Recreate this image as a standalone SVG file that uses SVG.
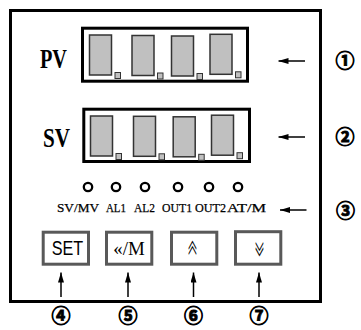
<svg xmlns="http://www.w3.org/2000/svg" width="361" height="330" viewBox="0 0 361 330">
<style>
.panel{fill:#fff;stroke:#000;stroke-width:3}
.disp{fill:#fff;stroke:#000;stroke-width:3}
.dig{fill:#c0c0c0;stroke:#333;stroke-width:1.5}
.dot{fill:#c0c0c0;stroke:#333;stroke-width:1}
.led{fill:none;stroke:#000;stroke-width:2.3}
.btn{fill:#fff;stroke:#595959;stroke-width:3}
.big{font-family:"Liberation Serif",serif;font-weight:bold;font-size:27px;fill:#000}
.lbl{font-family:"Liberation Serif",serif;font-size:13px;fill:#000;stroke:#000;stroke-width:0.25}
.bt{font-size:19.5px;fill:#000}
.sym{font-family:"Noto Sans CJK SC",sans-serif;font-size:14px;fill:#000;text-anchor:middle}
.num{font-family:"Noto Sans CJK SC","DejaVu Sans",sans-serif;font-weight:bold;font-size:19px;fill:#000;stroke:#000;stroke-width:0.9;text-anchor:middle}
.arr{stroke:#000;stroke-width:1.5;fill:none;marker-end:url(#ah)}
</style>
<defs>
<marker id="ah" markerUnits="userSpaceOnUse" viewBox="0 0 10 6" refX="10" refY="3" markerWidth="10" markerHeight="6" orient="auto">
<path d="M0,0 L10,3 L0,6 Z" fill="#000"/>
</marker>
<g id="digit"><rect class="dig" x="0" y="0" width="22" height="40"/><rect class="dot" x="25.5" y="37.5" width="5.5" height="6"/></g>
</defs>
<rect width="361" height="330" fill="#fff"/>
<g id="panel"><rect class="panel" x="10.5" y="10.5" width="310" height="291"/></g>
<g id="pv-display">
<text class="big" x="40" y="68" textLength="27" lengthAdjust="spacingAndGlyphs">PV</text>
<rect class="disp" x="82.5" y="28.2" width="165" height="53"/>
<use href="#digit" x="89.5" y="35"/>
<use href="#digit" x="132" y="35.5"/>
<use href="#digit" x="171.5" y="36"/>
<use href="#digit" x="210" y="34.3"/>
</g>
<g id="sv-display">
<text class="big" x="43" y="147" textLength="27" lengthAdjust="spacingAndGlyphs">SV</text>
<rect class="disp" x="83.8" y="109.2" width="165.7" height="52.3"/>
<use href="#digit" x="90.5" y="116"/>
<use href="#digit" x="133.5" y="116.3"/>
<use href="#digit" x="173.2" y="116.8"/>
<use href="#digit" x="211.5" y="115.2"/>
</g>
<g id="indicators">
<circle class="led" cx="88" cy="187" r="4.2"/>
<circle class="led" cx="116" cy="187" r="4.2"/>
<circle class="led" cx="145" cy="187" r="4.2"/>
<circle class="led" cx="178" cy="187" r="4.2"/>
<circle class="led" cx="209" cy="187" r="4.2"/>
<circle class="led" cx="238" cy="187" r="4.2"/>
<text class="lbl" x="57" y="211.5" textLength="42" lengthAdjust="spacingAndGlyphs">SV/MV</text>
<text class="lbl" x="106" y="211.5" textLength="20" lengthAdjust="spacingAndGlyphs">AL1</text>
<text class="lbl" x="134" y="211.5" textLength="21" lengthAdjust="spacingAndGlyphs">AL2</text>
<text class="lbl" x="162" y="211.5" textLength="30" lengthAdjust="spacingAndGlyphs">OUT1</text>
<text class="lbl" x="195" y="211.5" textLength="31" lengthAdjust="spacingAndGlyphs">OUT2</text>
<text class="lbl" x="227" y="211.5" textLength="39" lengthAdjust="spacingAndGlyphs">AT/M</text>
</g>
<g id="btn-set">
<rect class="btn" x="43.2" y="232.2" width="45.3" height="32"/>
<text class="bt" x="51.7" y="255" font-family="Liberation Sans, sans-serif" textLength="31.5" lengthAdjust="spacingAndGlyphs">SET</text>
</g>
<g id="btn-shift">
<rect class="btn" x="106.5" y="232.2" width="45.3" height="32"/>
<text class="bt" x="113.3" y="255" font-family="Liberation Serif, serif" textLength="31.5" lengthAdjust="spacingAndGlyphs">«/M</text>
</g>
<g id="btn-up">
<rect class="btn" x="171.5" y="232.2" width="45.3" height="32"/>
<text class="sym" x="0" y="5" transform="translate(192.5,240) scale(0.6,2.4)">︽</text>
</g>
<g id="btn-down">
<rect class="btn" x="235.5" y="231.7" width="45.3" height="32.5"/>
<text class="sym" x="0" y="5" transform="translate(259.5,259) scale(0.6,2.4)">︾</text>
</g>
<g id="connectors">
<line class="arr" x1="305" y1="61" x2="278.5" y2="61"/>
<line class="arr" x1="305" y1="137" x2="278.5" y2="137"/>
<line class="arr" x1="306.5" y1="210" x2="280" y2="210"/>
<line class="arr" x1="61" y1="297" x2="61" y2="272.5"/>
<line class="arr" x1="128" y1="297" x2="128" y2="272.5"/>
<line class="arr" x1="193.5" y1="297" x2="193.5" y2="272.5"/>
<line class="arr" x1="259" y1="297" x2="259" y2="272.5"/>
</g>
<g id="callouts">
<text class="num" x="345" y="68">①</text>
<text class="num" x="345" y="144">②</text>
<text class="num" x="345.5" y="217.5">③</text>
<text class="num" x="61" y="323">④</text>
<text class="num" x="128" y="323">⑤</text>
<text class="num" x="193.5" y="323">⑥</text>
<text class="num" x="259" y="323">⑦</text>
</g>
</svg>
